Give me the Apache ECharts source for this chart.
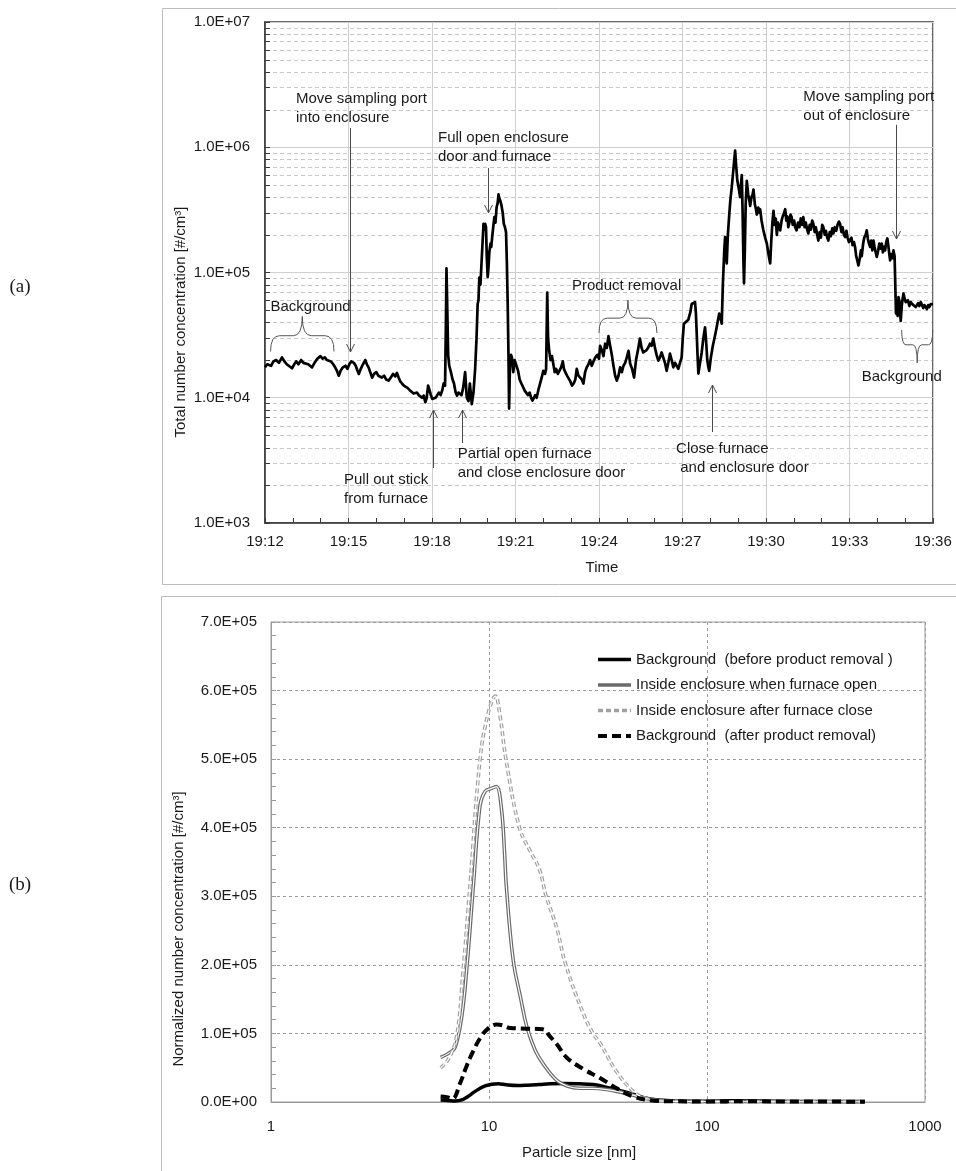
<!DOCTYPE html>
<html><head><meta charset="utf-8">
<script src="https://cdn.jsdelivr.net/npm/echarts@6/dist/echarts.min.js"></script>
<style>html,body{margin:0;padding:0;background:#fff}#c{width:956px;height:1171px}</style>
</head><body><div id="c"></div>
<script>
const FONT = "'Liberation Sans', Arial, sans-serif";

// ---------- (a) total number concentration vs time (minutes after 19:12) ----------
const timeTicks = ['19:12','19:15','19:18','19:21','19:24','19:27','19:30','19:33','19:36'];
const totalConc = [
[0.00,17500],[0.08,18500],[0.15,19000],[0.22,18000],[0.30,19500],[0.40,20000],[0.50,19000],[0.61,21000],[0.70,19500],[0.78,18500],[0.85,19000],[0.97,17200],[1.05,18500],[1.12,19500],[1.20,18500],[1.30,20000],[1.38,19000],[1.45,19500],[1.55,18500],[1.62,18000],[1.69,17500],[1.78,19000],[1.88,20500],[1.99,21500],[2.07,20500],[2.15,21000],[2.22,20000],[2.29,20500],[2.37,19500],[2.45,18500],[2.52,17500],[2.58,16500],[2.65,15000],[2.72,16500],[2.80,17500],[2.89,18000],[2.96,17000],[3.03,18500],[3.10,19500],[3.19,19000],[3.26,18000],[3.32,16500],[3.37,15500],[3.44,17000],[3.52,18500],[3.60,20000],[3.66,18500],[3.72,17500],[3.78,16000],[3.85,14500],[3.92,15500],[4.00,16000],[4.07,15000],[4.14,15500],[4.20,14500],[4.28,15000],[4.35,14000],[4.44,13700],[4.52,14500],[4.60,15500],[4.68,14800],[4.74,15800],[4.80,14500],[4.86,13500],[4.92,13000],[4.99,12500],[5.06,12800],[5.12,12000],[5.20,11500],[5.27,11800],[5.34,10800],[5.40,11200],[5.46,11000],[5.52,10500],[5.58,10200],[5.64,10000],[5.70,10400],[5.76,9200],[5.81,10000],[5.86,12500],[5.91,11500],[5.96,10500],[6.01,9800],[6.07,9500],[6.13,10000],[6.19,10500],[6.25,11000],[6.31,10500],[6.37,11500],[6.42,13000],[6.47,12500],[6.50,40000],[6.52,108000],[6.55,50000],[6.58,22000],[6.62,18000],[6.68,16000],[6.74,14000],[6.79,13000],[6.85,11000],[6.90,10400],[6.95,11000],[7.00,11400],[7.06,10500],[7.12,12000],[7.19,16000],[7.25,10000],[7.31,9400],[7.36,13000],[7.40,10500],[7.43,8900],[7.49,11000],[7.55,17000],[7.60,30000],[7.64,56000],[7.67,60000],[7.70,91000],[7.74,80000],[7.79,133000],[7.82,180000],[7.85,245000],[7.88,220000],[7.91,245000],[7.94,230000],[7.97,130000],[8.00,92000],[8.03,110000],[8.06,145000],[8.10,170000],[8.13,160000],[8.16,190000],[8.20,230000],[8.24,277000],[8.28,250000],[8.32,330000],[8.36,360000],[8.39,420000],[8.42,390000],[8.46,370000],[8.50,340000],[8.54,300000],[8.58,245000],[8.62,230000],[8.66,210000],[8.69,120000],[8.72,56000],[8.75,20000],[8.77,8200],[8.80,18000],[8.84,22000],[8.87,21000],[8.92,16000],[8.97,20000],[9.03,19800],[9.09,16500],[9.15,14000],[9.21,13000],[9.27,12200],[9.33,11400],[9.39,11000],[9.45,10500],[9.51,11000],[9.56,10000],[9.61,9500],[9.66,9800],[9.71,10500],[9.76,10000],[9.82,11500],[9.88,12900],[9.94,14500],[10.00,16400],[10.06,15500],[10.10,17000],[10.14,69000],[10.17,30000],[10.21,23700],[10.26,20000],[10.31,21500],[10.36,18500],[10.41,16000],[10.46,17000],[10.52,15500],[10.58,16000],[10.64,17500],[10.70,19500],[10.74,17000],[10.79,16000],[10.85,15000],[10.91,14500],[10.97,13500],[11.03,12500],[11.09,13000],[11.15,14000],[11.20,17000],[11.26,15000],[11.32,14500],[11.38,14000],[11.44,13000],[11.50,16000],[11.56,17500],[11.62,18500],[11.68,20000],[11.74,18000],[11.80,19500],[11.87,21000],[11.94,22000],[12.00,20500],[12.04,26000],[12.10,24000],[12.16,21500],[12.22,27000],[12.28,25000],[12.34,31000],[12.40,26000],[12.46,22000],[12.52,18000],[12.58,15000],[12.64,13700],[12.70,15000],[12.76,17500],[12.82,16000],[12.88,18000],[12.94,19000],[13.00,21000],[13.06,23700],[13.12,18700],[13.19,17000],[13.26,14500],[13.33,20000],[13.40,24000],[13.47,29700],[13.53,25000],[13.59,23000],[13.65,22500],[13.71,24000],[13.77,25200],[13.83,27000],[13.89,26000],[13.95,29700],[14.01,25000],[14.07,22000],[14.13,19800],[14.19,21000],[14.25,23000],[14.31,22500],[14.37,19000],[14.43,16400],[14.49,19000],[14.55,22500],[14.61,20000],[14.67,17500],[14.73,19000],[14.79,18000],[14.85,17000],[14.91,19000],[14.97,21000],[15.01,30000],[15.05,39000],[15.12,40000],[15.21,42000],[15.28,48000],[15.33,56000],[15.40,57000],[15.45,58000],[15.48,48000],[15.51,33000],[15.54,22000],[15.57,15600],[15.63,19000],[15.69,23000],[15.75,30000],[15.81,36500],[15.85,28000],[15.89,20000],[15.93,17500],[15.96,16400],[16.02,21000],[16.09,26000],[16.15,30000],[16.20,34000],[16.26,40000],[16.32,47000],[16.37,43000],[16.41,39000],[16.45,80000],[16.50,150000],[16.53,192000],[16.56,140000],[16.59,118000],[16.63,200000],[16.68,290000],[16.72,380000],[16.77,480000],[16.81,600000],[16.85,750000],[16.89,940000],[16.93,700000],[16.97,540000],[17.02,470000],[17.07,400000],[17.10,500000],[17.13,600000],[17.16,300000],[17.19,120000],[17.21,82000],[17.24,150000],[17.27,350000],[17.31,540000],[17.36,420000],[17.40,380000],[17.43,340000],[17.48,400000],[17.52,420000],[17.55,460000],[17.60,350000],[17.64,320000],[17.67,290000],[17.72,330000],[17.76,300000],[17.79,320000],[17.84,260000],[17.90,220000],[17.97,190000],[18.03,170000],[18.09,140000],[18.15,118000],[18.19,180000],[18.23,250000],[18.27,310000],[18.31,240000],[18.35,270000],[18.39,200000],[18.43,250000],[18.47,230000],[18.51,217000],[18.56,260000],[18.60,280000],[18.65,300000],[18.69,320000],[18.73,260000],[18.77,280000],[18.80,230000],[18.84,250000],[18.88,290000],[18.92,277000],[18.96,240000],[19.01,260000],[19.05,230000],[19.10,217000],[19.15,250000],[19.20,230000],[19.25,270000],[19.30,240000],[19.34,277000],[19.39,230000],[19.43,250000],[19.48,220000],[19.52,205000],[19.57,240000],[19.61,220000],[19.66,260000],[19.70,245000],[19.75,210000],[19.79,230000],[19.84,200000],[19.88,180000],[19.93,210000],[19.97,190000],[20.02,240000],[20.06,230000],[20.11,200000],[20.15,215000],[20.20,190000],[20.24,180000],[20.29,210000],[20.33,195000],[20.38,225000],[20.42,205000],[20.47,230000],[20.52,215000],[20.57,240000],[20.62,255000],[20.66,245000],[20.71,210000],[20.75,230000],[20.80,200000],[20.84,192000],[20.89,215000],[20.93,190000],[20.98,175000],[21.02,170000],[21.07,190000],[21.11,165000],[21.16,175000],[21.20,160000],[21.24,135000],[21.28,125000],[21.32,114000],[21.37,130000],[21.41,150000],[21.44,135000],[21.49,170000],[21.53,190000],[21.58,200000],[21.62,217000],[21.66,185000],[21.70,170000],[21.74,160000],[21.78,180000],[21.82,150000],[21.86,180000],[21.90,160000],[21.94,145000],[21.98,133000],[22.03,150000],[22.07,170000],[22.12,155000],[22.16,170000],[22.20,145000],[22.24,160000],[22.28,150000],[22.32,175000],[22.36,187000],[22.40,160000],[22.43,140000],[22.46,125000],[22.50,140000],[22.54,130000],[22.58,150000],[22.62,135000],[22.65,140000],[22.67,47000],[22.70,55000],[22.73,45000],[22.76,63500],[22.80,58000],[22.84,41000],[22.88,55000],[22.91,62000],[22.94,68000],[22.98,62000],[23.02,58000],[23.06,56000],[23.10,60000],[23.15,54000],[23.20,58000],[23.24,60000],[23.29,55000],[23.33,57000],[23.38,53000],[23.42,52000],[23.47,57000],[23.51,54000],[23.56,58000],[23.60,56000],[23.65,52000],[23.69,55000],[23.74,53000],[23.78,51000],[23.83,55000],[23.87,53000],[23.92,56000],[23.96,54000],[24.00,56000]
];
// annotation anchors in data space: [minutes, concentration, text]
const annotTexts = [
  [1.114, 2.06e6, 'Move sampling port\ninto enclosure'],
  [6.216, 1.005e6, 'Full open enclosure\ndoor and furnace'],
  [11.03, 7.8e4, 'Product removal'],
  [19.34, 2.13e6, 'Move sampling port\nout of enclosure'],
  [0.198, 5.3e4, 'Background'],
  [21.44, 1.472e4, 'Background'],
  [2.838, 1868, 'Pull out stick\nfrom furnace'],
  [6.923, 3013, 'Partial open furnace\nand close enclosure door'],
  [14.77, 3304, 'Close furnace\n and enclosure door']
];
// arrows: [minutes, tail concentration, head concentration]
const annotArrows = [
  [3.065, 1.426e6, 2.32e4],
  [8.0, 6.82e5, 2.99e5],
  [22.67, 1.51e6, 1.85e5],
  [6.025, 2748, 7980],
  [7.067, 4355, 7980],
  [16.07, 5327, 1.264e4]
];
// braces: [start min, end min, concentration at ends, concentration at tip]
const annotBraces = [
  [0.2, 2.48, 2.34e4, 4.46e4],
  [12.0, 14.08, 3.29e4, 6.03e4],
  [22.875, 23.99, 3.48e4, 1.894e4]
];

// ---------- (b) size distributions ----------
const sizeTicks = ['1','10','100','1000'];
const bgBefore = [[6.0,3000],[6.5,2200],[7.0,1500],[7.5,3000],[8.0,8000],[8.5,14000],[9.0,19000],[9.6,23500],[10.3,26000],[11.0,26500],[12.0,25000],[13.5,24000],[15.0,24500],[17.0,25500],[19.0,26500],[22.0,27000],[26.0,26500],[30.0,25500],[34.0,22000],[38.5,18000],[45.8,11500],[52.0,6000],[60.0,3000],[75.0,1500],[100.0,1000],[130.0,1800],[170.0,1500],[250.0,900],[400.0,700],[530.0,600]];
const furnaceOpen = [[6.0,65000],[6.6,72000],[7.0,80000],[7.5,125000],[7.9,193000],[8.5,320000],[9.1,433000],[9.6,453000],[10.2,457000],[10.8,460000],[11.4,428000],[11.8,360000],[12.0,316000],[12.9,208000],[14.0,150000],[14.9,110000],[16.3,75000],[17.7,56000],[20.4,32000],[23.0,23000],[26.0,20000],[30.0,20000],[34.0,18500],[38.5,15500],[45.8,10000],[55.0,4000],[70.0,1000],[100.0,500],[200.0,300],[500.0,200]];
const furnaceClosed = [[6.0,50000],[6.5,62000],[7.1,95000],[7.6,190000],[8.2,320000],[9.1,500000],[9.9,566000],[10.7,592000],[11.2,566000],[12.0,497000],[13.8,400000],[15.5,365000],[17.0,340000],[18.3,300000],[20.4,255000],[22.5,200000],[27.0,130000],[30.0,100000],[32.3,86000],[38.5,44000],[45.8,15500],[50.0,8000],[56.0,3000],[70.0,1000],[100.0,500],[530.0,200]];
const bgAfter = [[6.0,8000],[6.4,7000],[6.8,5000],[7.36,27000],[7.8,48000],[8.2,65000],[9.1,93000],[9.9,107000],[10.8,113000],[11.5,112000],[12.5,108000],[14.9,107000],[17.7,106000],[19.0,96000],[20.4,85000],[22.7,65000],[27.1,48000],[32.3,35000],[38.5,20000],[45.8,8000],[55.0,2500],[70.0,1000],[100.0,800],[150.0,1000],[250.0,700],[530.0,500]];
const legendNames = ['Background  (before product removal )','Inside enclosure when furnace open','Inside enclosure after furnace close','Background  (after product removal)'];

// minor (2..9 x 10^k) gridlines for the log axis
const minorVals = [];
for (let e = 3; e < 7; e++) for (let m = 2; m <= 9; m++) minorVals.push([0, m * Math.pow(10, e)]);

const chart = echarts.init(document.getElementById('c'), null, {renderer:'canvas'});

function renderMinor(params, api) {
  const v = api.value(1);
  const a = api.coord([0, v]), b = api.coord([24, v]);
  const y = Math.round(a[1]) + 0.5;
  return {type:'group', children:[
    {type:'line', shape:{x1:a[0]+1, y1:y, x2:b[0]-1, y2:y}, style:{stroke:'#c8c8c8', lineWidth:1, lineDash:[4,3]}},
    {type:'line', shape:{x1:a[0], y1:y, x2:a[0]+5, y2:y}, style:{stroke:'#3a3a3a', lineWidth:1}}
  ]};
}
function renderText(params, api) {
  const p = api.coord([api.value(0), api.value(1)]);
  return {type:'text', x:p[0], y:p[1], style:{text:annotTexts[params.dataIndex][2], fill:'#1a1a1a', font:'15px ' + FONT, lineHeight:19, align:'left', verticalAlign:'middle'}};
}
function renderArrow(params, api) {
  const a = api.coord([api.value(0), api.value(1)]);
  const b = api.coord([api.value(0), api.value(2)]);
  const x = Math.round(a[0]) + 0.5;
  const dir = b[1] > a[1] ? 1 : -1;
  return {type:'group', children:[
    {type:'line', shape:{x1:x, y1:a[1], x2:x, y2:b[1]}, style:{stroke:'#4a4a4a', lineWidth:1}},
    {type:'polyline', shape:{points:[[x-4, b[1]-dir*8],[x, b[1]],[x+4, b[1]-dir*8]]}, style:{stroke:'#4a4a4a', fill:'none', lineWidth:1}}
  ]};
}
function renderBrace(params, api) {
  const p1 = api.coord([api.value(0), api.value(2)]);
  const p2 = api.coord([api.value(1), api.value(2)]);
  const tip = api.coord([(api.value(0)+api.value(1))/2, api.value(3)]);
  const x1 = p1[0], x2 = p2[0], yE = p1[1], yT = tip[1], xm = (x1+x2)/2;
  const yM = yT + (yE - yT) * 0.55;
  const r = Math.min(9, (x2-x1)*0.14);
  const d = 'M'+x1+','+yE+' Q'+x1+','+yM+' '+(x1+r)+','+yM+' L'+(xm-r)+','+yM+' Q'+xm+','+yM+' '+xm+','+yT+
            ' Q'+xm+','+yM+' '+(xm+r)+','+yM+' L'+(x2-r)+','+yM+' Q'+x2+','+yM+' '+x2+','+yE;
  return {type:'path', shape:{pathData:d}, style:{stroke:'#555', fill:'none', lineWidth:1}};
}

const axisTxt = {fontSize:15, color:'#1a1a1a', fontFamily:FONT};
const option = {
  animation:false,
  textStyle:{fontFamily:FONT},
  grid:[
    {left:265, top:22, width:668, height:501, show:true, borderColor:'#3a3a3a', borderWidth:1.5},
    {left:271, top:622, width:654, height:480, show:true, borderColor:'#9a9a9a', borderWidth:1}
  ],
  xAxis:[
    {gridIndex:0, type:'value', min:0, max:24, interval:3,
     axisLine:{lineStyle:{color:'#3a3a3a', width:1.5}},
     axisTick:{inside:true, length:5, lineStyle:{color:'#3a3a3a'}},
     minorTick:{show:true, splitNumber:3, length:5, lineStyle:{color:'#3a3a3a'}},
     splitLine:{show:true, lineStyle:{color:'#cfcfcf', width:1}},
     axisLabel:Object.assign({margin:11, formatter:(v)=>timeTicks[Math.round(v/3)]}, axisTxt)},
    {gridIndex:1, type:'log', logBase:10, min:1, max:1000,
     axisLine:{lineStyle:{color:'#9a9a9a'}}, axisTick:{show:false},
     splitLine:{show:true, lineStyle:{color:'#9a9a9a', type:[3,3]}},
     axisLabel:Object.assign({margin:17, formatter:(v)=>sizeTicks[Math.round(Math.log10(v))]}, axisTxt)}
  ],
  yAxis:[
    {gridIndex:0, type:'log', logBase:10, min:1000, max:1e7,
     axisLine:{show:true, lineStyle:{color:'#3a3a3a', width:1.5}},
     axisTick:{show:true, inside:true, length:5, lineStyle:{color:'#3a3a3a'}},
     splitLine:{show:true, lineStyle:{color:'#cfcfcf', width:1}},
     axisLabel:Object.assign({margin:15, formatter:(v)=>'1.0E+' + String(Math.round(Math.log10(v))).padStart(2,'0')}, axisTxt)},
    {gridIndex:1, type:'value', min:0, max:700000, interval:100000,
     axisLine:{show:true, lineStyle:{color:'#9a9a9a'}},
     axisTick:{show:true, inside:true, length:5, lineStyle:{color:'#9a9a9a'}},
     minorTick:{show:true, splitNumber:5, length:5, lineStyle:{color:'#9a9a9a'}},
     splitLine:{show:true, lineStyle:{color:'#9a9a9a', type:[3,3]}},
     axisLabel:Object.assign({margin:14, formatter:(v)=> v === 0 ? '0.0E+00' : (v/1e5).toFixed(1) + 'E+05'}, axisTxt)}
  ],
  legend:{data:legendNames, orient:'vertical', left:591, top:647, itemWidth:33, itemHeight:14, itemGap:10.5,
          itemStyle:{color:'transparent', borderColor:'transparent', borderWidth:0, opacity:0},
          lineStyle:{width:'inherit'},
          textStyle:{fontSize:15, color:'#1a1a1a', lineHeight:15, fontFamily:FONT}, selectedMode:false},
  series:[
    {name:'minor', type:'custom', xAxisIndex:0, yAxisIndex:0, data:minorVals, encode:{x:0, y:1}, renderItem:renderMinor, silent:true, z:1},
    {name:'total', type:'line', xAxisIndex:0, yAxisIndex:0, data:totalConc, symbol:'none', lineStyle:{color:'#000', width:2.7, join:'round'}, z:3, silent:true},
    {name:'arrows', type:'custom', xAxisIndex:0, yAxisIndex:0, data:annotArrows, encode:{x:0, y:[1,2]}, renderItem:renderArrow, silent:true, z:4},
    {name:'braces', type:'custom', xAxisIndex:0, yAxisIndex:0, data:annotBraces, encode:{x:[0,1], y:[2,3]}, renderItem:renderBrace, silent:true, z:4},
    {name:'texts', type:'custom', xAxisIndex:0, yAxisIndex:0, data:annotTexts.map(a=>[a[0], a[1]]), encode:{x:0, y:1}, renderItem:renderText, silent:true, z:5},

    {name:legendNames[0], type:'line', xAxisIndex:1, yAxisIndex:1, data:bgBefore, symbol:'none', smooth:0.4, lineStyle:{color:'#000', width:3.5}, itemStyle:{color:'#000'}, z:3},
    {name:legendNames[1], type:'line', xAxisIndex:1, yAxisIndex:1, data:furnaceOpen, symbol:'none', smooth:0.4, lineStyle:{color:'#6a6a6a', width:3.6}, itemStyle:{color:'#6a6a6a'}, z:3},
    {name:'openInner', type:'line', xAxisIndex:1, yAxisIndex:1, data:furnaceOpen, symbol:'none', smooth:0.4, lineStyle:{color:'#fff', width:1.2}, itemStyle:{color:'#fff'}, z:3},
    {name:legendNames[2], type:'line', xAxisIndex:1, yAxisIndex:1, data:furnaceClosed, symbol:'none', smooth:0.4, lineStyle:{color:'#a0a0a0', width:3.6, type:[5,3]}, itemStyle:{color:'#a0a0a0'}, z:3},
    {name:'closeInner', type:'line', xAxisIndex:1, yAxisIndex:1, data:furnaceClosed, symbol:'none', smooth:0.4, lineStyle:{color:'#fff', width:1.2, type:[5,3]}, itemStyle:{color:'#fff'}, z:3},
    {name:legendNames[3], type:'line', xAxisIndex:1, yAxisIndex:1, data:bgAfter, symbol:'none', smooth:0.4, lineStyle:{color:'#000', width:4, type:[9,5]}, itemStyle:{color:'#000'}, z:4}
  ],
  graphic:[
    {type:'rect', silent:true, z:-10, shape:{x:162.5, y:8.5, width:820, height:576}, style:{stroke:'#bdbdbd', fill:'none', lineWidth:1}},
    {type:'rect', silent:true, z:-10, shape:{x:161.5, y:596.5, width:820, height:600}, style:{stroke:'#bdbdbd', fill:'none', lineWidth:1}},
    {type:'text', silent:true, x:181, y:322, rotation:Math.PI/2, style:{text:'Total number concentration [#/cm³]', fill:'#1a1a1a', font:'15px ' + FONT, align:'center', verticalAlign:'middle'}},
    {type:'text', silent:true, x:179, y:929, rotation:Math.PI/2, style:{text:'Normalized number concentration [#/cm³]', fill:'#1a1a1a', font:'15px ' + FONT, align:'center', verticalAlign:'middle'}},
    {type:'text', silent:true, x:602, y:568, style:{text:'Time', fill:'#1a1a1a', font:'15px ' + FONT, align:'center', verticalAlign:'middle'}},
    {type:'text', silent:true, x:579, y:1153, style:{text:'Particle size [nm]', fill:'#1a1a1a', font:'15px ' + FONT, align:'center', verticalAlign:'middle'}},
    {type:'text', silent:true, x:20, y:287, style:{text:'(a)', fill:'#1a1a1a', font:"19px 'Liberation Serif', 'Times New Roman', serif", align:'center', verticalAlign:'middle'}},
    {type:'text', silent:true, x:20, y:885, style:{text:'(b)', fill:'#1a1a1a', font:"19px 'Liberation Serif', 'Times New Roman', serif", align:'center', verticalAlign:'middle'}}
  ]
};
chart.setOption(option);
</script></body></html>
